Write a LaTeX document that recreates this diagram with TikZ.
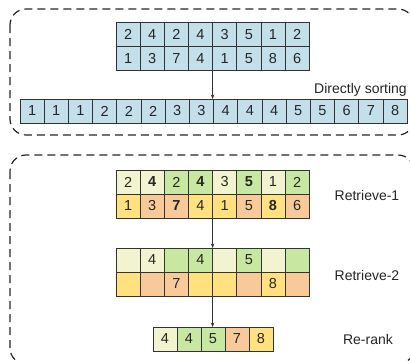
\documentclass[tikz,border=0pt]{standalone}
\usepackage{fontspec}
\setmainfont{Liberation Sans}
\usetikzlibrary{arrows.meta}
\definecolor{cblue}{HTML}{C3DFEA}
\definecolor{ccream}{HTML}{F2F4CF}
\definecolor{cgreen}{HTML}{C8E7A0}
\definecolor{cyellow}{HTML}{FFE27F}
\definecolor{corange}{HTML}{F8CA9A}
\definecolor{cline}{HTML}{333333}
\begin{document}
\begin{tikzpicture}[x=1pt,y=-1pt,
  cell/.style={draw=cline, line width=0.7pt, minimum width=24.15pt, minimum height=24pt,
    inner sep=0pt, outer sep=0pt, anchor=north west, text=black!85,
    font=\fontsize{14.5}{16}\selectfont},
  lbl/.style={anchor=base, text=black!85, font=\fontsize{14}{16}\selectfont},
  arr/.style={-{Stealth[length=4.5pt,width=3.5pt]}, line width=0.8pt, draw=black!80},
  frame/.style={draw=black!85, line width=1.2pt, dash pattern=on 8pt off 5pt, rounded corners=16pt}]
\useasboundingbox (0,0) rectangle (410,360);
% frames
\draw[frame] (10,9) rectangle (414,135);
\draw[frame] (10,155) rectangle (414,364);
% top grid
\foreach \v [count=\i] in {2,4,2,4,3,5,1,2}
  \node[cell, fill=cblue] (a\i) at ({116+(\i-1)*24.15},22.5) {\v};
\foreach \v [count=\i] in {1,3,7,4,1,5,8,6}
  \node[cell, fill=cblue] (b\i) at ({116+(\i-1)*24.15},46.5) {\v};
% sorted row
\foreach \v [count=\i] in {1,1,1,2,2,2,3,3,4,4,4,5,5,6,7,8}
  \node[cell, fill=cblue] (s\i) at ({20+(\i-1)*24.2},99) {\v};
\node[lbl] (ds) at (360.5,93) {Directly sorting};
\draw[arr] (b4.south east) -- (b4.south east |- s8.north);
% retrieve-1
\foreach \c/\t [count=\i] in {ccream/2, ccream/\textbf{4}, cgreen/2, cgreen/\textbf{4}, ccream/3, cgreen/\textbf{5}, ccream/1, cgreen/2}
  \node[cell, fill=\c] (p\i) at ({116+(\i-1)*24.15},170) {\t};
\foreach \c/\t [count=\i] in {cyellow/1, corange/3, corange/\textbf{7}, cyellow/4, cyellow/1, corange/5, cyellow/\textbf{8}, corange/6}
  \node[cell, fill=\c] (q\i) at ({116+(\i-1)*24.15},194) {\t};
\node[lbl] (l1) at (367,200) {Retrieve-1};
% retrieve-2
\foreach \c/\t [count=\i] in {ccream/, ccream/4, cgreen/, cgreen/4, ccream/, cgreen/5, ccream/, cgreen/}
  \node[cell, fill=\c] (u\i) at ({116+(\i-1)*24.15},248) {\t};
\foreach \c/\t [count=\i] in {cyellow/, corange/, corange/7, cyellow/, cyellow/, corange/, cyellow/8, corange/}
  \node[cell, fill=\c] (w\i) at ({116+(\i-1)*24.15},272) {\t};
\node[lbl] (l2) at (367,280) {Retrieve-2};
\draw[arr] (q4.south east) -- (q4.south east |- u4.north);
% re-rank
\foreach \c/\t [count=\i] in {ccream/4, cgreen/4, cgreen/5, corange/7, cyellow/8}
  \node[cell, fill=\c, minimum width=24pt] (k\i) at ({153+(\i-1)*24},327) {\t};
\node[lbl] (l3) at (368,344) {Re-rank};
\draw[arr] (w4.south east) -- (w4.south east |- k3.north);
\end{tikzpicture}
\end{document}
